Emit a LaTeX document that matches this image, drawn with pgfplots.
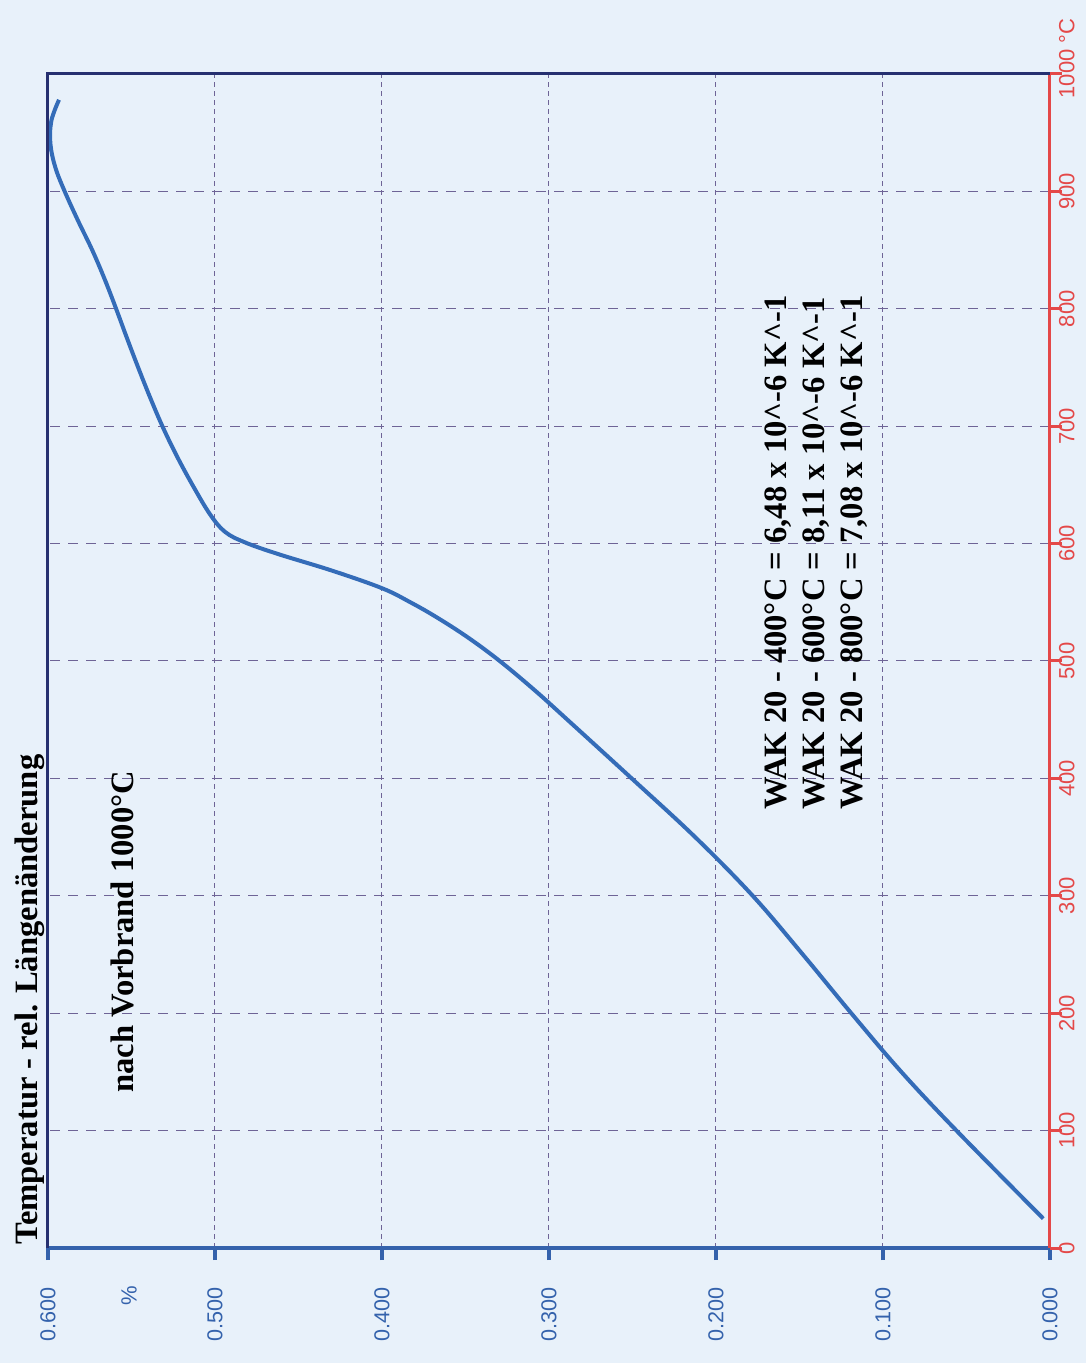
\documentclass[border=0pt]{standalone}
\usepackage{fontspec}
\setmainfont{Liberation Serif}
\setsansfont{Liberation Sans}
\usepackage{pgfplots}
\pgfplotsset{compat=1.18}

\definecolor{bg}{RGB}{232,241,250}
\definecolor{axblue}{RGB}{52,98,172}
\definecolor{axred}{RGB}{228,72,72}
\definecolor{framec}{RGB}{38,48,112}
\definecolor{curvec}{RGB}{52,108,184}
\definecolor{gridc}{RGB}{110,100,150}

% dilatometer curve: relative length change (%) against temperature (degC)
\pgfplotstableread{
dl     T
0.004  25
0.056  100
0.089  150
0.119  200
0.148  250
0.178  300
0.2125 350
0.2505 400
0.289  450
0.3085 475
0.3295 500
0.3485 520
0.367  537
0.383  550
0.400  562
0.430  577
0.462  591
0.482  601
0.494  610
0.503  625
0.5135 650
0.5230 675
0.5315 700
0.5390 725
0.5460 750
0.5527 775
0.5592 800
0.5660 825
0.5735 850
0.5820 875
0.5900 900
0.5955 920
0.5985 940
0.5980 960
0.5934 978
}\dilatation

\begin{document}
\begin{tikzpicture}
\fill[bg] (-24pt,-57.5pt) rectangle (519pt,624pt);
\useasboundingbox (-24pt,-57.5pt) rectangle (519pt,624pt);
\begin{axis}[
  at={(0,0)}, anchor=south west,
  scale only axis, width=501pt, height=587pt,
  x dir=reverse,
  xmin=0, xmax=0.6, ymin=0, ymax=1000,
  clip=false,
  axis x line*=bottom, axis y line*=right,
  x axis line style={axblue, line width=1.8pt, -},
  y axis line style={axred, line width=1.5pt, -},
  xtick={0,0.1,0.2,0.3,0.4,0.5,0.6},
  xticklabels={0.000,0.100,0.200,0.300,0.400,0.500,0.600},
  ytick={0,100,200,300,400,500,600,700,800,900,1000},
  yticklabels={\sffamily 0,\sffamily 100,\sffamily 200,\sffamily 300,
    \sffamily 400,\sffamily 500,\sffamily 600,\sffamily 700,\sffamily 800,
    \sffamily 900,{\sffamily 1000\rlap{ °C}}},
  tick align=outside,
  major tick length=6pt,
  x tick style={axblue, line width=1.8pt},
  y tick style={axred, line width=1.5pt},
  xmajorgrids, ymajorgrids,
  x grid style={gridc, line width=0.5pt, dash pattern=on 2.5pt off 2pt},
  y grid style={gridc, line width=0.5pt, dash pattern=on 5pt off 4pt},
  xticklabel style={rotate=90, anchor=east, text=axblue,
    font=\sffamily\fontsize{10.8}{12}\selectfont},
  xticklabel shift=10pt,
  yticklabel style={rotate=90, anchor=north, text=axred,
    font=\sffamily\fontsize{11}{13}\selectfont},
  yticklabel shift=-5pt,
]
\addplot[curvec, line width=2pt, smooth, tension=0.6] table[x=dl, y=T] {\dilatation};

% frame on the top and on the left
\draw[framec, line width=1.5pt] (axis cs:0.6,0) -- (axis cs:0.6,1000) -- (axis cs:0,1000);

\path (axis cs:0.5515,0) ++(0,-24pt)
  node[rotate=90, text=axblue, font=\sffamily\fontsize{11}{13}\selectfont] {\%};

\tikzset{lbl/.style={rotate=90, anchor=base west, inner sep=0pt,
  font=\bfseries\fontsize{16.3}{19}\selectfont}}
\node[lbl] at (axis cs:0.606,2.6) {Temperatur - rel. Längenänderung};
\node[lbl] at (axis cs:0.5485,132) {nach Vorbrand 1000°C};
\node[lbl] at (axis cs:0.158,373) {WAK 20 - 400°C = 6,48 x 10\textasciicircum-6 K\textasciicircum-1};
\node[lbl] at (axis cs:0.1353,373) {WAK 20 - 600°C = 8,11 x 10\textasciicircum-6 K\textasciicircum-1};
\node[lbl] at (axis cs:0.112,373) {WAK 20 - 800°C = 7,08 x 10\textasciicircum-6 K\textasciicircum-1};
\end{axis}
\end{tikzpicture}
\end{document}
